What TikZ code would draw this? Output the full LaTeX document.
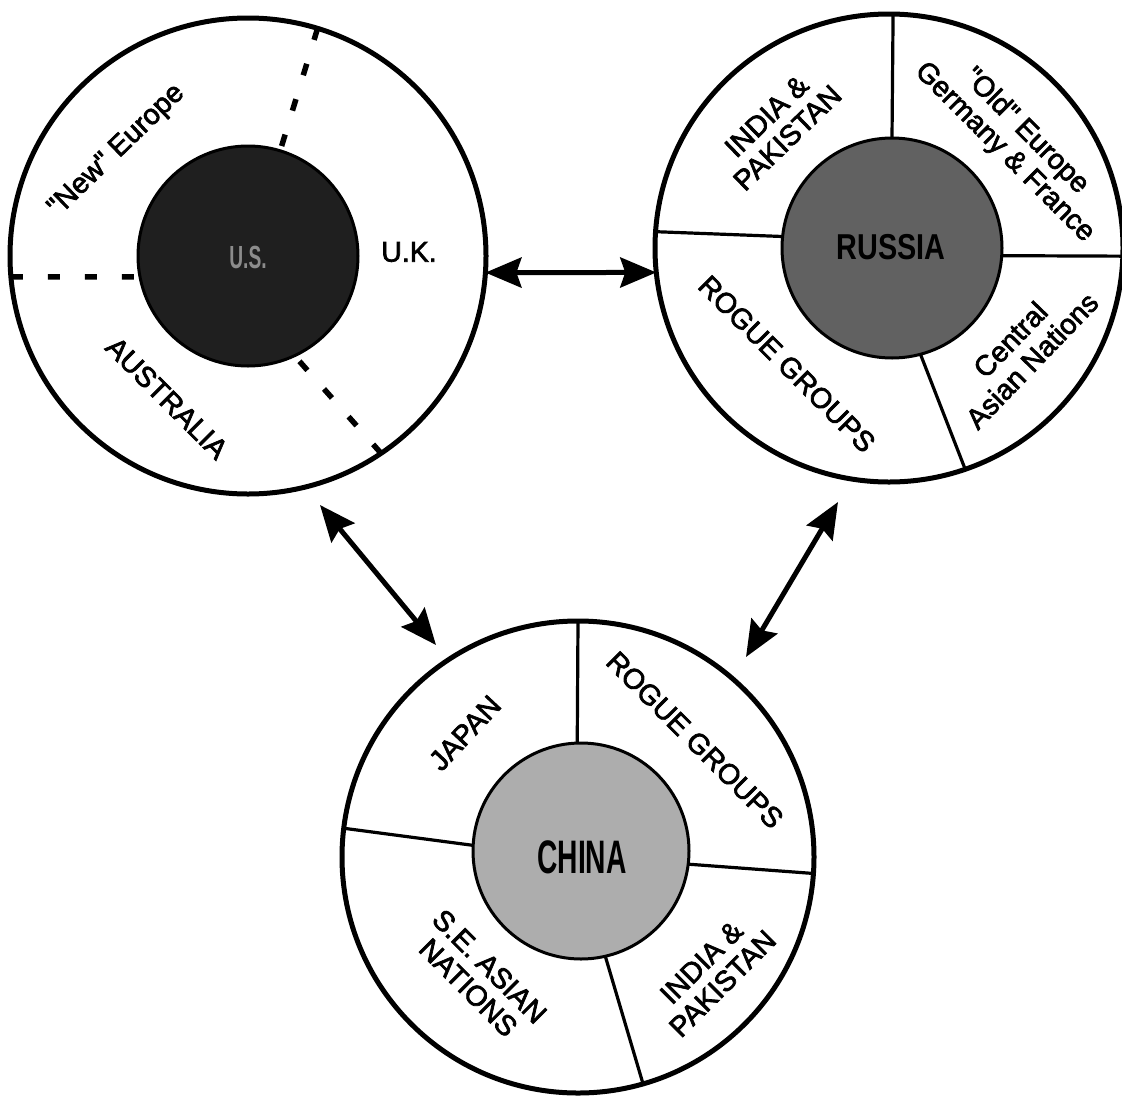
\documentclass[tikz,border=0pt]{standalone}
\usepackage{fontspec}
\setmainfont{Liberation Sans}[Ligatures=TeXOff]
\newfontfamily\labfont{Liberation Sans}[Ligatures=TeXOff, FakeBold=2.5]
\usetikzlibrary{arrows.meta}
\begin{document}
\begin{tikzpicture}[x=1pt,y=-1pt,
  ring/.style={circle, draw, line width=5pt, minimum size=#1, inner sep=0pt, outer sep=0pt, fill=white},
  core/.style={circle, draw, line width=3pt, minimum size=#1, inner sep=0pt, outer sep=0pt},
  div/.style={line width=3.2pt},
  dsh/.style={line width=5.5pt, dash pattern=on 12pt off 25pt},
  lab/.style={font=\labfont\fontsize{28.5}{30}\selectfont, align=center, inner sep=0pt},
  big/.style={font=\fontsize{#1}{#1}\selectfont\bfseries, inner sep=0pt},
  link/.style={line width=5pt, >={Stealth[length=36pt,width=30pt,inset=5pt]}, <->},
]
\fill[white] (0,0) rectangle (1122,1098);
\useasboundingbox (0,0) rectangle (1122,1098);

% outer rings
\node[ring=476pt] (us) at (248,256) {};
\node[ring=468pt] (ru) at (889,248) {};
\node[ring=472pt] (ch) at (578,857) {};

% inner cores
\node[core=220pt, fill=black!88] (usc) at (248,256) {};
\node[core=220pt, fill=black!62] (ruc) at (892,248) {};
\node[core=216pt, fill=black!32] (chc) at (581,851) {};

% US dashed borders
\draw[dsh] (us.73.5) -- (usc.73.5);
\draw[dsh] (us.185.1) -- (usc.191.5);
\draw[dsh] (us.-56.8) -- (usc.-65.8);

% Russia dividers
\draw[div] (ruc.90.5) -- (ru.89.5);
\draw[div] (ruc.174.3) -- (ru.176.3);
\draw[div] (ruc.-4.2) -- (ru.-2.2);
\draw[div] (ruc.-75.3) -- (ru.-71.8);

% China dividers
\draw[div] (chc.92.1) -- (ch.90.2);
\draw[div] (chc.177.3) -- (ch.173.4);
\draw[div] (chc.-7.9) -- (ch.-4.1);
\draw[div] (chc.-77.5) -- (ch.-74.3);

% centre labels
\node[big=32, text=black!45] (uslab) at (248,257) {\scalebox{0.6}[1]{U.S.}};
\node[big=36] (rulab) at (891,247) {\scalebox{0.8}[1]{RUSSIA}};
\node[big=47] (chlab) at (582,857) {\scalebox{0.6}[1]{CHINA}};

% US labels
\node[lab, rotate=44] (newe) at (117,151) {"New" Europe};
\node[lab] (uk) at (409,252) {U.K.};
\node[lab, rotate=-45] (aus) at (167,398) {AUSTRALIA};

% Russia labels
\node[lab, rotate=44] (ruip) at (777,127) {INDIA \&\\PAKISTAN};
\node[lab, rotate=-45] (ruold) at (1015,142) {"Old" Europe\\Germany \& France};
\node[lab, rotate=-45] (rurg) at (787,364) {ROGUE GROUPS};
\node[lab, rotate=46] (ruca) at (1021,350) {Central\\Asian Nations};

% China labels
\node[lab, rotate=47] (jp) at (465,733) {JAPAN};
\node[lab, rotate=-45] (chrg) at (695,740) {ROGUE GROUPS};
\node[lab, rotate=-45] (chse) at (479,977) {S.E. ASIAN\\NATIONS};
\node[lab, rotate=45] (chip) at (712,973) {INDIA \&\\PAKISTAN};

% arrows
\coordinate (a1) at (320,505);
\coordinate (a2) at (436,645);
\coordinate (b1) at (838,502);
\coordinate (b2) at (746,657);
\draw[link] (us.-4) -- (ru.186);
\draw[link] (a1) -- (a2);
\draw[link] (b1) -- (b2);
\end{tikzpicture}
\end{document}
